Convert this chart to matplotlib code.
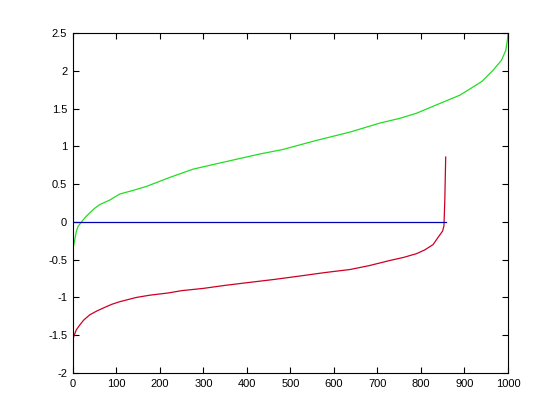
import matplotlib
matplotlib.use("Agg")
import matplotlib.pyplot as plt

# sorted curves
green_x = [0, 2, 8, 12, 20, 30, 39, 50, 62, 85, 108, 140, 169, 223, 277, 330,
           376, 430, 483, 560, 637, 706, 750, 790, 844, 890, 940, 966, 985,
           995, 999, 1000]
green_y = [-0.36, -0.31, -0.13, -0.06, 0.0, 0.07, 0.12, 0.18, 0.23, 0.29, 0.37,
           0.42, 0.47, 0.59, 0.70, 0.77, 0.83, 0.90, 0.96, 1.08, 1.19, 1.31,
           1.37, 1.44, 1.57, 1.68, 1.86, 2.01, 2.14, 2.27, 2.42, 2.48]

red_x = [0, 2, 8, 16, 25, 39, 55, 70, 90, 108, 146, 177, 220, 250, 300, 350,
         407, 465, 522, 580, 637, 680, 729, 760, 790, 809, 828, 840, 850, 853,
         855, 857]
red_y = [-1.57, -1.52, -1.43, -1.365, -1.30, -1.23, -1.18, -1.14, -1.09,
         -1.056, -1.0, -0.97, -0.94, -0.91, -0.88, -0.84, -0.80, -0.76, -0.716,
         -0.67, -0.63, -0.58, -0.51, -0.47, -0.42, -0.37, -0.30, -0.20, -0.12,
         -0.05, 0.3, 0.86]

blue_x = [0, 857]
blue_y = [0, 0]

xticks = [0, 100, 200, 300, 400, 500, 600, 700, 800, 900, 1000]
yticks = [-2, -1.5, -1, -0.5, 0, 0.5, 1, 1.5, 2, 2.5]

plt.rcParams['font.family'] = ['Liberation Sans', 'DejaVu Sans']

fig = plt.figure(figsize=(5.6, 4.2), dpi=100)
ax = fig.add_axes([0.13, 0.112, 0.777, 0.809])

ax.plot(green_x, green_y, color='#22dd22', lw=0.9)
ax.plot(red_x, red_y, color='#cc0022', lw=0.9)
ax.plot(blue_x, blue_y, color='#0000b0', lw=0.9)

ax.set_xlim(0, 1000)
ax.set_ylim(-2, 2.5)
ax.set_xticks(xticks)
ax.set_yticks(yticks)
ax.set_yticklabels(['%g' % t for t in yticks])
ax.tick_params(direction='in', top=True, right=True, length=4.5, width=0.8,
               labelsize=8, pad=4)
for s in ax.spines.values():
    s.set_linewidth(0.8)

fig.savefig("out.png", dpi=100)
